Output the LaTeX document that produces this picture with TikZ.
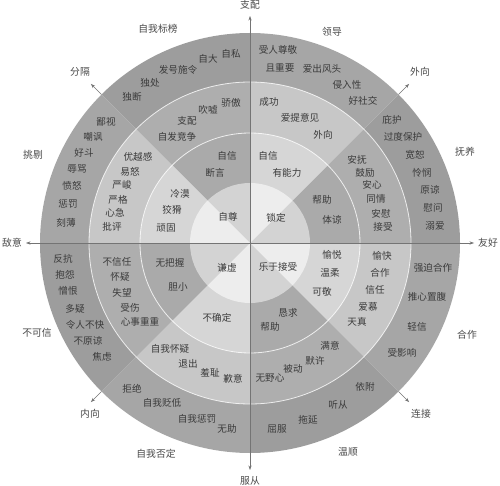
\documentclass[tikz,border=0pt]{standalone}
\usepackage{fontspec}
\setmainfont{Noto Sans CJK SC}
\usetikzlibrary{arrows.meta,calc}
\definecolor{cOD}{HTML}{9D9D9D}
\definecolor{cOL}{HTML}{A6A6A6}
\definecolor{cTD}{HTML}{AEAEAE}
\definecolor{cTL}{HTML}{C7C7C7}
\definecolor{cSD}{HTML}{AAAAAA}
\definecolor{cSL}{HTML}{D6D6D6}
\definecolor{cID}{HTML}{D3D3D3}
\definecolor{cIL}{HTML}{EDEDED}
\definecolor{txt}{HTML}{3A3A3A}
\definecolor{labc}{HTML}{4A4A4A}
\definecolor{axc}{HTML}{747474}
\tikzset{
  word/.style={text=txt,inner sep=0pt,font=\fontsize{9.6}{11}\selectfont},
  lab/.style={text=labc,inner sep=0pt,font=\fontsize{9.8}{11}\selectfont},
  axis/.style={draw=axc,line width=0.5pt,-{Stealth[length=4.5pt,width=3.2pt]}},
  ringline/.style={draw=white,line width=0.8pt,draw opacity=0.8}
}
\begin{document}
\begin{tikzpicture}[x=1pt,y=-1pt]
\useasboundingbox (0,0) rectangle (500,486);
\fill[white] (0,0) rectangle (500,486);
\coordinate (C) at (250,243);
% sectors (screen angle a  -> tikz angle -a)
\foreach \r/\d/\l in {210/cOD/cOL,161/cTD/cTL,110/cSD/cSL,60/cID/cIL}{
  \foreach \a in {0,90,180,270}{
    \fill[fill=\d] (C) -- ++(-\a:\r) arc[start angle=-\a, end angle=-\a-45, radius=\r] -- cycle;
    \fill[fill=\l] (C) -- ++(-\a-45:\r) arc[start angle=-\a-45, end angle=-\a-90, radius=\r] -- cycle;
  }
}
\foreach \r in {110,161}{
  \draw[ringline] (C) circle[radius=\r];
}
% axes
\coordinate (L) at (26,243);
\coordinate (R) at (474,243);
\coordinate (T) at (250,16);
\coordinate (B) at (250,470);
\draw[axis] (C) -- (L);
\draw[axis] (C) -- (R);
\draw[axis] (C) -- (T);
\draw[axis] (C) -- (B);
\foreach \a/\n in {45/ur,135/ul,225/dl,315/dr}{
  \coordinate (\n0) at ($(C)+(-\a:210)$);
  \coordinate (\n1) at ($(C)+(-\a:225)$);
  \draw[axis] (\n0) -- (\n1);
}
% axis labels
\foreach \x/\y/\t [count=\i] in {250/5/支配,250/481/服从,12/243/敌意,488/243/友好,80/72/分隔,420/72/外向,90/414/内向,421/414/连接}{
  \node[lab] (ax\i) at (\x,\y) {\t};
}
% outer category labels
\foreach \x/\y/\t [count=\i] in {158/29/自我标榜,332/32/领导,465/152/抚养,467/335/合作,348/452/温顺,156/454/自我否定,37/333/不可信,33/155/挑剔}{
  \node[lab] (lab\i) at (\x,\y) {\t};
}
% outer ring words
\foreach \x/\y/\t [count=\i] in {
231/54/自私,208/59/自大,178/70/发号施令,150/83/独处,132/97/独断,
278/50/受人尊敬,280/68/且重要,322/69/爱出风头,347/85/侵入性,363/101/好社交,
392/120/庇护,403/137/过度保护,415/155/宽恕,422/173/怜悯,430/190/原谅,433/208/慰问,435/226/溺爱,
106/122/鄙视,93/137/嘲讽,84/153/好斗,77/169/辱骂,72/186/愤怒,68/204/惩罚,66/223/刻薄,
63/259/反抗,65/275/抱怨,68/291/憎恨,75/309/多疑,85/325/令人不快,88/341/不原谅,102/357/焦虑,
433/268/强迫合作,427/297/推心置腹,417/327/轻信,402/353/受影响,
132/389/拒绝,162/403/自我贬低,197/419/自我惩罚,227/429/无助,
365/387/依附,338/405/听从,308/420/拖延,277/429/屈服}{
  \node[word] (o\i) at (\x,\y) {\t};
}
% third ring words
\foreach \x/\y/\t [count=\i] in {
231/103/骄傲,208/110/吹嘘,187/121/支配,177/137/自发竞争,
269/102/成功,300/118/爱提意见,323/135/外向,
138/157/优越感,130/172/易怒,122/185/严峻,118/200/严格,115/213/心急,112/227/批评,
357/160/安抚,365/173/鼓励,372/185/安心,376/199/同情,381/214/安慰,383/227/接受,
117/262/不信任,120/277/怀疑,122/293/失望,130/308/受伤,140/322/心事重重,
382/256/愉快,380/273/合作,375/290/信任,368/307/爱慕,357/322/天真,
170/349/自我怀疑,188/364/退出,210/373/羞耻,233/379/歉意,
330/346/满意,315/361/默许,293/369/被动,270/378/无野心}{
  \node[word] (t\i) at (\x,\y) {\t};
}
% second ring words
\foreach \x/\y/\t [count=\i] in {
227/156/自信,215/173/断言,180/194/冷漠,172/210/狡猾,166/228/顽固,
268/156/自信,287/173/有能力,322/200/帮助,332/220/体谅,
332/255/愉悦,330/273/温柔,322/292/可敬,288/313/恳求,270/327/帮助,
170/263/无把握,178/287/胆小,217/318/不确定}{
  \node[word] (s\i) at (\x,\y) {\t};
}
% inner circle words
\foreach \x/\y/\t [count=\i] in {228/217/自尊,276/218/锁定,227/268/谦虚,278/267/乐于接受}{
  \node[word] (c\i) at (\x,\y) {\t};
}
\end{tikzpicture}
\end{document}
